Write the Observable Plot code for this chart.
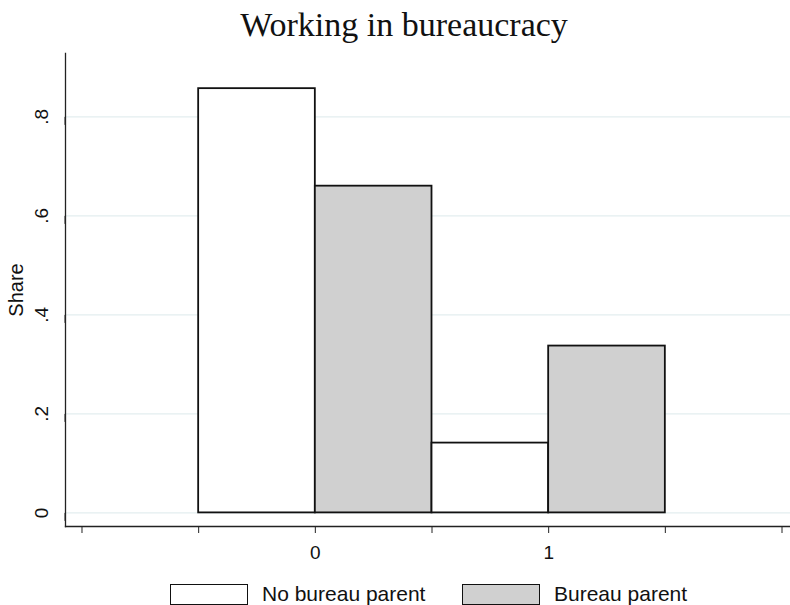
<!DOCTYPE html>
<html>
<head>
<meta charset="utf-8">
<script src="https://cdn.jsdelivr.net/npm/d3@7"></script>
<script src="https://cdn.jsdelivr.net/npm/@observablehq/plot@0.6"></script>
<style>
  html, body { margin: 0; padding: 0; background: #fff; }
  #wrap { position: relative; width: 790px; height: 605px; overflow: hidden; background: #fff; }
  #title { position: absolute; top: 6px; left: 0; width: 808px; text-align: center;
           font-family: "Liberation Serif", "DejaVu Serif", serif; font-size: 34px; color: #111; }
  #chart { position: absolute; top: 0; left: 0; }
  #legend { position: absolute; top: 583px; left: 0; width: 790px; height: 22px;
            font-family: "Liberation Sans", Arial, sans-serif; font-size: 21px; color: #111; }
  .sw { position: absolute; top: 1px; width: 76px; height: 19px; border: 1.5px solid #111; }
  .lb { position: absolute; top: 0px; line-height: 22px; }
</style>
</head>
<body>
<div id="wrap">
  <div id="chart"></div>
  <div id="title">Working in bureaucracy</div>
  <div id="legend"></div>
</div>
<script>
// Data
const categories = [0, 1];
const seriesNames = ["No bureau parent", "Bureau parent"];
const seriesFill = ["#ffffff", "#d0d0d0"];
const noBureauShare = [0.857, 0.141];
const bureauShare = [0.660, 0.337];
const yTicks = [0, 0.2, 0.4, 0.6, 0.8];
const xTicks = [-1, -0.5, 0, 0.5, 1, 1.5, 2];
const xLabels = [0, 1];

const seriesValues = [noBureauShare, bureauShare];
const rows = [];
categories.forEach((c, ci) => {
  seriesNames.forEach((s, si) => {
    rows.push({cat: c, series: s, si, share: seriesValues[si][ci],
               x1: c - 0.5 + 0.5 * si, x2: c + 0.5 * si});
  });
});

const fmt = d => d === 0 ? "0" : String(d).replace(/^0\./, ".");

const plot = Plot.plot({
  width: 790,
  height: 580,
  marginTop: 53,
  marginBottom: 54,
  marginLeft: 65,
  marginRight: 0,
  style: {fontFamily: "'Liberation Sans', Arial, sans-serif", background: "transparent"},
  x: {domain: [-1.0707, 2.0364]},
  y: {domain: [-0.0275, 0.928]},
  color: {domain: seriesNames, range: seriesFill},
  marks: [
    Plot.gridY(yTicks, {stroke: "#e3eeef", strokeOpacity: 1, strokeWidth: 1.2}),
    Plot.rectY(rows, {x1: "x1", x2: "x2", y1: 0, y2: "share", fill: "series",
                      stroke: "#111", strokeWidth: 1.8}),
    Plot.frame({anchor: "left", stroke: "#222", strokeWidth: 1.3}),
    Plot.frame({anchor: "bottom", stroke: "#222", strokeWidth: 1.3}),
    Plot.axisY(yTicks, {tickSize: 8, tickPadding: 16, tickFormat: fmt, rotate: -90,
                        textAnchor: "middle", fontSize: 19, stroke: "#222", fill: "#111",
                        label: null}),
    Plot.axisX(xTicks, {tickSize: 7, tickFormat: () => "", stroke: "#222", label: null}),
    Plot.axisX(xLabels, {tickSize: 0, tickPadding: 19, tickFormat: d => String(d),
                         fontSize: 19, fill: "#111", label: null}),
    Plot.text(["Share"], {frameAnchor: "left", dx: -49, rotate: -90, fontSize: 20,
                          textAnchor: "middle", fill: "#111", text: d => d})
  ]
});
document.getElementById("chart").appendChild(plot);

// Legend
const legend = document.getElementById("legend");
const swLeft = [170, 462];
seriesNames.forEach((s, i) => {
  const sw = document.createElement("div");
  sw.className = "sw";
  sw.style.left = swLeft[i] + "px";
  sw.style.background = seriesFill[i];
  legend.appendChild(sw);
  const lb = document.createElement("div");
  lb.className = "lb";
  lb.style.left = (swLeft[i] + 92) + "px";
  lb.textContent = s;
  legend.appendChild(lb);
});
</script>
</body>
</html>
